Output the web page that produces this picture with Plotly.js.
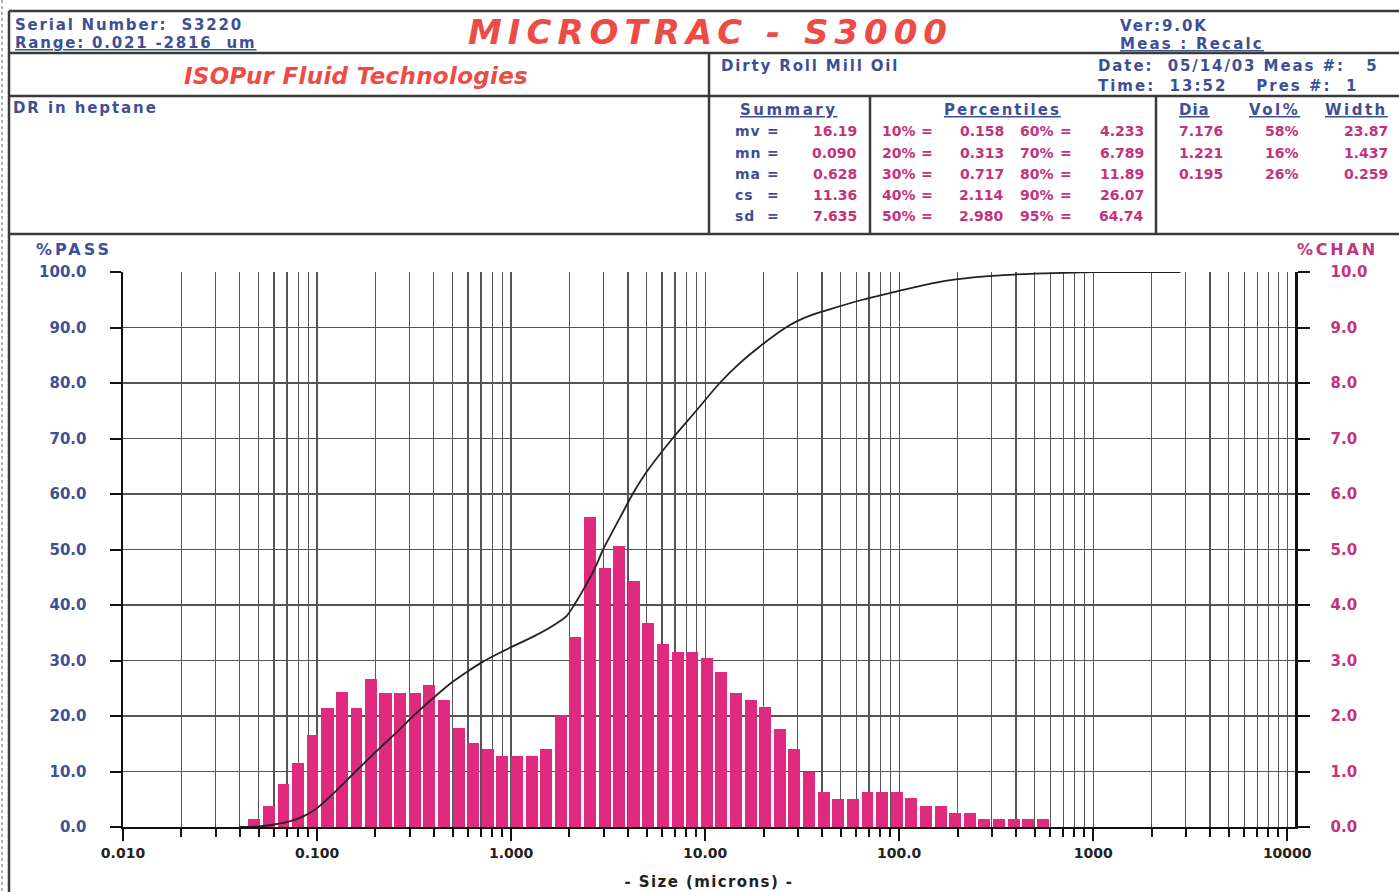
<!DOCTYPE html>
<html>
<head>
<meta charset="utf-8">
<script src="https://cdn.plot.ly/plotly-3.0.1.min.js"></script>
<style>
html,body{margin:0;padding:0;background:#fff;}
#chart{width:1399px;height:892px;}
</style>
</head>
<body>
<div id="chart"></div>
<script>
// ---------- DATA ----------
// Microtrac channel edges (microns), ascending
const channelEdges = [0.043,0.051,0.061,0.072,0.086,0.102,0.122,0.145,0.172,0.204,
  0.243,0.289,0.344,0.409,0.486,0.578,0.688,0.818,0.972,1.156,
  1.375,1.635,1.945,2.312,2.75,3.27,3.89,4.625,5.5,6.54,
  7.78,9.25,11,13.08,15.56,18.5,22,26.16,31.11,37,
  44,52.33,62.23,74,88,104.7,124.5,148,176,209.3,
  248.9,296,352,418.6,497.8,592];
// %CHAN per channel (right axis)
const chanPct = [0.14,0.38,0.77,1.15,1.66,2.15,2.43,2.15,2.67,2.42,
  2.42,2.42,2.55,2.29,1.78,1.52,1.40,1.28,1.28,1.28,
  1.40,2.02,3.43,5.58,4.67,5.06,4.43,3.67,3.30,3.16,
  3.16,3.04,2.80,2.42,2.29,2.17,1.77,1.40,1.00,0.63,
  0.50,0.50,0.63,0.63,0.63,0.52,0.37,0.37,0.25,0.25,
  0.14,0.14,0.14,0.14,0.14];
// cumulative %PASS curve
const curveSize = [0.040,0.050,0.060,0.072,0.086,0.100,0.121,0.158,0.219,0.267,
  0.313,0.396,0.502,0.589,0.717,0.875,1.000,1.300,1.580,1.930,
  2.114,2.450,2.750,2.980,3.400,3.780,4.233,5.000,6.789,9.000,
  11.89,15.00,19.00,26.07,30.00,35.00,45.00,64.74,100.0,150.0,
  200.0,300.0,500.0,800.0,1000,2816];
const curvePass = [0,0.1,0.45,1.0,2.0,3.4,6.0,10.0,14.8,17.6,
  20.0,23.2,26.2,27.9,29.8,31.4,32.4,34.3,35.9,38.0,
  40.0,43.8,47.2,50.0,53.8,56.8,60.0,64.0,70.0,75.0,
  80.0,83.5,86.5,90.0,91.2,92.2,93.4,95.0,96.6,98.0,
  98.7,99.3,99.7,99.9,100,100];
// axis ticks
const xTickVals = [0.01,0.1,1,10,100,1000,10000];
const xTickText = ['0.010','0.100','1.000','10.00','100.0','1000','10000'];
const passTickVals = [0,10,20,30,40,50,60,70,80,90,100];
const passTickText = ['0.0','10.0','20.0','30.0','40.0','50.0','60.0','70.0','80.0','90.0','100.0'];
const chanTickVals = [0,1,2,3,4,5,6,7,8,9,10];
const chanTickText = ['0.0','1.0','2.0','3.0','4.0','5.0','6.0','7.0','8.0','9.0','10.0'];
// report text
const summaryLabels = ['mv','mn','ma','cs','sd'];
const summaryValues = ['16.19','0.090','0.628','11.36','7.635'];
const pctLeftLabels = ['10%','20%','30%','40%','50%'];
const pctLeftValues = ['0.158','0.313','0.717','2.114','2.980'];
const pctRightLabels = ['60%','70%','80%','90%','95%'];
const pctRightValues = ['4.233','6.789','11.89','26.07','64.74'];
const peakDia = ['7.176','1.221','0.195'];
const peakVol = ['58%','16%','26%'];
const peakWidth = ['23.87','1.437','0.259'];

// ---------- STYLE / GEOMETRY ----------
const FONT = 'DejaVu Sans, Verdana, sans-serif';
const BLUE = '#3f4f96', PINK = '#c4327c', RED = '#ec4b46', BAR = '#e02a7e';
const PL = 123, PR = 1295, PT = 272, PB = 827, W = 1399, H = 892;
const xp = v => (v - PL) / (PR - PL);
const yp = v => (PB - v) / (PB - PT);
const sp = (t, ls) => '<span style="letter-spacing:' + ls + 'px">' + t + '</span>';

// bars: span each channel in log space with a small gap
const barX = [], barW = [], barOff = [];
for (let i = 0; i < chanPct.length; i++) {
  const lo = channelEdges[i], hi = channelEdges[i + 1];
  const r = hi / lo;
  const b0 = lo * Math.pow(r, 0.16), b1 = hi / Math.pow(r, 0.02);
  const c = Math.sqrt(lo * hi);
  barX.push(c); barOff.push(b0 - c); barW.push(b1 - b0);
}
const minorVals = [];
for (let d = -2; d <= 3; d++) for (let k = 2; k <= 9; k++) minorVals.push(k * Math.pow(10, d));

const FS = '\u2007';
const passTextPadded = passTickText.map(t => FS.repeat(5 - t.length) + t);

const traces = [
  {type: 'bar', x: barX, y: chanPct, width: barW, offset: barOff,
   xaxis: 'x', yaxis: 'y', marker: {color: BAR, line: {width: 0}}, hoverinfo: 'skip'},
  {type: 'scatter', mode: 'lines', x: curveSize, y: curvePass, xaxis: 'x', yaxis: 'y2',
   line: {color: '#222', width: 1.8, shape: 'spline', smoothing: 0.7}, hoverinfo: 'skip'}
];

const ann = [];
function T(text, x, y, o = {}) {
  const t = o.ls ? sp(text, o.ls) : text;
  ann.push({text: o.u ? '<u>' + t + '</u>' : t, xref: 'paper', yref: 'paper', x: xp(x), y: yp(y),
    xanchor: o.xa || 'left', yanchor: 'middle', showarrow: false, borderpad: 0,
    font: {family: FONT, size: o.size || 14, color: o.color || BLUE,
           weight: o.weight || 'bold', style: o.style || 'normal'}});
}
const NB = '\u00a0';
T('Serial Number:' + NB + NB + 'S3220', 14, 25, {size: 15, ls: 1.8});
T('Range: 0.021 -2816' + NB + NB + 'um', 14, 43, {size: 15, ls: 1.8, u: true});
T('MICROTRAC - S3000', 710, 32, {xa: 'center', size: 34, color: RED, style: 'italic', ls: 6});
T('Ver:9.0K', 1119, 26, {size: 15, ls: 1.9});
T('Meas : Recalc', 1119, 44, {size: 15, ls: 2.2, u: true});
T('ISOPur Fluid Technologies', 356, 76, {xa: 'center', size: 23, color: RED, style: 'italic', ls: 0.3});
T('Dirty Roll Mill Oil', 720, 66, {size: 15, ls: 1.85});
T('Date:' + NB + NB + '05/14/03 Meas #:' + NB + NB + NB + '5', 1097, 66, {size: 15, ls: 1.9});
T('Time:' + NB + NB + '13:52' + NB + NB + NB + NB + 'Pres #:' + NB + NB + '1', 1097, 86, {size: 15, ls: 2.0});
T('DR in heptane', 12, 108, {size: 15, ls: 1.9});
T('Summary', 789, 110, {xa: 'center', size: 15, ls: 2.5, u: true});
T('Percentiles', 1002, 110, {xa: 'center', size: 15, ls: 2.0, u: true});
T('Dia', 1194, 110, {xa: 'center', size: 15, ls: 1, u: true});
T('Vol%', 1274, 110, {xa: 'center', size: 15, ls: 2.5, u: true});
T('Width', 1356, 110, {xa: 'center', size: 15, ls: 2.5, u: true});
const rowY = [131, 153, 174, 195, 216];
for (let i = 0; i < 5; i++) {
  const y = rowY[i];
  T(summaryLabels[i], 734, y, {size: 14, ls: 1});
  T('=', 773, y, {xa: 'center', size: 14});
  T(summaryValues[i], 858, y, {xa: 'right', size: 14, color: PINK});
  T(pctLeftLabels[i], 881, y, {size: 14, color: PINK});
  T('=', 927, y, {xa: 'center', size: 14, color: PINK});
  T(pctLeftValues[i], 1005, y, {xa: 'right', size: 14, color: PINK});
  T(pctRightLabels[i], 1019, y, {size: 14, color: PINK});
  T('=', 1066, y, {xa: 'center', size: 14, color: PINK});
  T(pctRightValues[i], 1145, y, {xa: 'right', size: 14, color: PINK});
  if (i < 3) {
    T(peakDia[i], 1178, y, {size: 14, color: PINK});
    T(peakVol[i], 1300, y, {xa: 'right', size: 14, color: PINK});
    T(peakWidth[i], 1389, y, {xa: 'right', size: 14, color: PINK});
  }
}
T('%PASS', 35, 250, {size: 16, ls: 3});
T('%CHAN', 1296, 250, {size: 16, ls: 2.8, color: PINK});

const shapes = [];
function Ln(x0, y0, x1, y1, w = 2.5, c = '#3a3a3a', dash = 'solid') {
  shapes.push({type: 'line', xref: 'paper', yref: 'paper', x0: xp(x0), y0: yp(y0), x1: xp(x1), y1: yp(y1),
    line: {color: c, width: w, dash}, layer: 'above'});
}
Ln(2, 0, 2, H, 1.5, '#999', 'dot');
Ln(9, 11, W, 11);
Ln(9, 11, 9, H);
Ln(9, 53, W, 53);
Ln(9, 96, W, 96);
Ln(9, 234, W, 234);
Ln(709, 53, 709, 234);
Ln(870, 96, 870, 234);
Ln(1156, 96, 1156, 234);

const gridC = '#555';
const layout = {
  width: W, height: H,
  margin: {l: PL, r: W - PR, t: PT, b: H - PB, pad: 0},
  paper_bgcolor: '#fff', plot_bgcolor: '#fff',
  showlegend: false, bargap: 0,
  xaxis: {
    type: 'log', range: [-2, 4.04], fixedrange: true,
    tickmode: 'array', tickvals: xTickVals, ticktext: xTickText,
    ticks: 'outside', ticklen: 12, tickwidth: 2, tickcolor: '#111',
    showgrid: true, gridcolor: gridC, gridwidth: 1.2,
    minor: {tickmode: 'array', tickvals: minorVals, ticks: 'outside', ticklen: 8, tickwidth: 2,
            tickcolor: '#111', showgrid: true, gridcolor: gridC, gridwidth: 1.2},
    showline: true, linecolor: '#111', linewidth: 2, zeroline: false,
    tickfont: {family: FONT, size: 14, color: '#222', weight: 'bold'},
    ticklabelstandoff: 0,
    title: {text: sp('- Size (microns) -', 1.4), standoff: 17,
            font: {family: FONT, size: 15, color: '#222', weight: 'bold'}}
  },
  yaxis: {
    range: [0, 10], side: 'right', anchor: 'x', fixedrange: true,
    tickmode: 'array', tickvals: chanTickVals, ticktext: chanTickText,
    ticks: 'outside', ticklen: 12, tickwidth: 2, tickcolor: '#111',
    showgrid: true, gridcolor: gridC, gridwidth: 1.2,
    showline: true, linecolor: '#111', linewidth: 2.5, zeroline: false,
    tickfont: {family: FONT, size: 15, color: PINK, weight: 'bold'},
    ticklabelstandoff: 18
  },
  yaxis2: {
    range: [0, 100], side: 'left', overlaying: 'y', anchor: 'x', fixedrange: true,
    tickmode: 'array', tickvals: passTickVals, ticktext: passTextPadded,
    ticks: 'outside', ticklen: 11, tickwidth: 2, tickcolor: '#111',
    showgrid: false,
    showline: true, linecolor: '#111', linewidth: 2.5, zeroline: false,
    tickfont: {family: FONT, size: 15, color: BLUE, weight: 'bold'},
    ticklabelstandoff: 20
  },
  annotations: ann,
  shapes: shapes
};

Plotly.newPlot('chart', traces, layout, {staticPlot: true, displayModeBar: false});
</script>
</body>
</html>
